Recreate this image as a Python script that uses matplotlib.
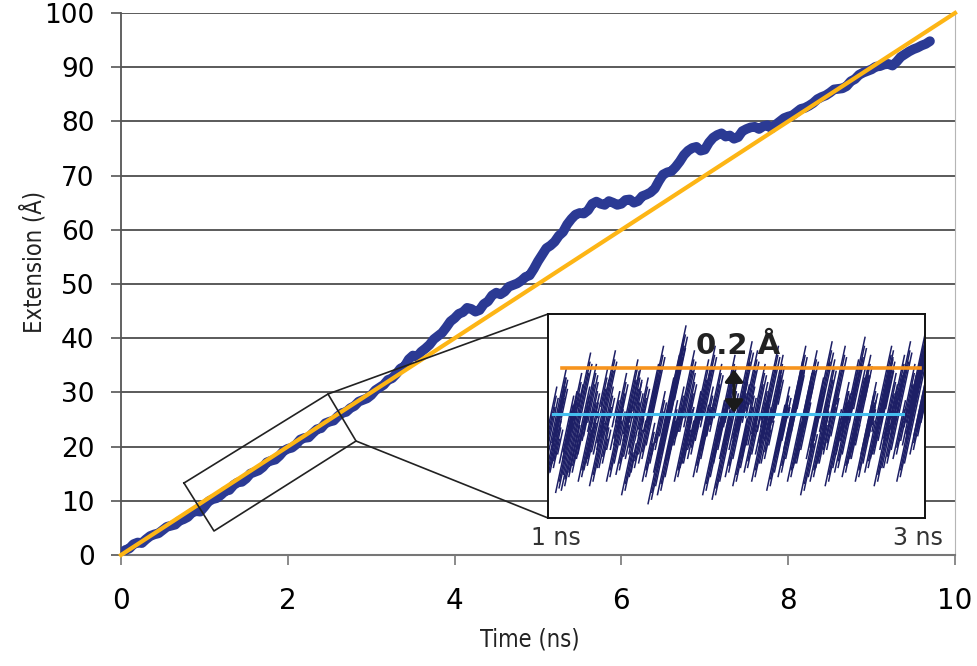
import numpy as np
import matplotlib
matplotlib.use('Agg')
from matplotlib import pyplot as plt
from matplotlib.collections import LineCollection
from matplotlib.font_manager import fontManager, FontProperties

# pulling trajectory: extension (A) sampled every 0.05 ns
extension = [0.2, 0.9, 1.2, 2.0, 2.3, 2.2, 2.9, 3.5, 3.8, 4.0,
             4.6, 5.2, 5.4, 5.6, 6.3, 6.6, 7.0, 7.8, 8.1, 8.0,
             8.9, 9.9, 10.3, 10.5, 11.1, 11.8, 12.0, 12.9, 13.4, 13.5,
             14.1, 15.0, 15.3, 15.6, 16.2, 17.1, 17.4, 17.6, 18.3, 19.2,
             19.6, 19.8, 20.4, 21.3, 21.6, 21.7, 22.5, 23.2, 23.4, 24.3,
             24.6, 24.8, 25.6, 26.2, 26.4, 27.1, 27.5, 28.3, 28.6, 28.9,
             29.5, 30.4, 30.9, 31.4, 32.3, 32.6, 33.4, 34.4, 34.8, 36.1,
             36.8, 36.6, 37.5, 38.1, 38.8, 39.8, 40.4, 41.0, 42.0, 43.1,
             43.7, 44.5, 44.8, 45.6, 45.4, 44.9, 45.2, 46.3, 46.8, 47.9,
             48.4, 48.1, 48.6, 49.5, 49.8, 50.1, 50.6, 51.3, 51.6, 52.8,
             54.2, 55.4, 56.6, 57.1, 57.8, 58.9, 59.6, 61.0, 62.0, 62.8,
             63.1, 63.0, 63.6, 64.8, 65.2, 64.8, 64.6, 65.3, 65.0, 64.6,
             64.8, 65.5, 65.6, 65.0, 65.3, 66.2, 66.5, 66.9, 67.6, 69.0,
             70.2, 70.6, 70.8, 71.6, 72.6, 73.8, 74.6, 75.1, 75.3, 74.6,
             74.8, 76.1, 77.0, 77.5, 77.8, 77.2, 77.4, 76.8, 77.1, 78.2,
             78.6, 78.9, 79.0, 78.6, 79.1, 79.3, 78.7, 79.4, 80.0, 80.6,
             80.9, 81.1, 81.7, 82.3, 82.5, 82.9, 83.4, 84.1, 84.5, 84.8,
             85.3, 85.9, 86.0, 86.1, 86.5, 87.4, 87.8, 88.6, 89.0, 89.3,
             89.6, 90.1, 90.2, 90.5, 90.6, 90.3, 91.0, 91.9, 92.4, 92.9,
             93.3, 93.6, 94.0, 94.3, 94.8]
time_ns = np.arange(len(extension)) * 0.05

# constant-velocity reference (10 A/ns)
ref_time = [0, 10]
ref_ext = [0, 100]

# zoomed window 1-3 ns: fluctuation strokes (start time, low, high) in A
seg_t = [0.96, 0.98, 1.00, 1.01, 1.03, 1.04, 1.06, 1.07, 1.09, 1.11,
         1.12, 1.14, 1.16, 1.17, 1.19, 1.21, 1.22, 1.24, 1.26, 1.27,
         1.29, 1.31, 1.33, 1.34, 1.36, 1.38, 1.39, 1.41, 1.43, 1.44,
         1.46, 1.48, 1.50, 1.51, 1.53, 1.55, 1.56, 1.58, 1.60, 1.62,
         1.63, 1.65, 1.67, 1.68, 1.70, 1.72, 1.74, 1.75, 1.77, 1.79,
         1.80, 1.82, 1.84, 1.86, 1.87, 1.89, 1.91, 1.92, 1.94, 1.96,
         1.98, 1.99, 2.01, 2.03, 2.04, 2.06, 2.08, 2.10, 2.11, 2.13,
         2.15, 2.16, 2.18, 2.20, 2.22, 2.23, 2.25, 2.27, 2.28, 2.30,
         2.32, 2.34, 2.35, 2.37, 2.39, 2.40, 2.42, 2.44, 2.46, 2.47,
         2.49, 2.51, 2.52, 2.54, 2.56, 2.58, 2.59, 2.61, 2.63, 2.64,
         2.66, 2.68, 2.70, 2.71, 2.73, 2.75, 2.76, 2.78, 2.80, 2.82,
         2.83, 2.85, 2.87, 2.88, 2.90, 2.92, 2.94, 2.96]
seg_lo = [-0.22, -0.30, -0.18, -0.26, -0.10, -0.35, -0.22, -0.34, -0.15, -0.28,
          -0.05, -0.20, -0.30, -0.12, -0.25, -0.08, -0.32, -0.18, -0.02, -0.24,
          -0.10, -0.30, -0.16, -0.06, -0.27, -0.14, -0.36, -0.20, -0.04, -0.26,
          -0.12, -0.22, -0.30, -0.08, -0.40, -0.18, -0.26, -0.36, -0.12, -0.22,
          -0.02, -0.16, -0.30, -0.10, -0.24, -0.06, -0.20, -0.14, -0.28, -0.08,
          -0.18, -0.36, -0.10, -0.24, -0.38, -0.14, -0.20, -0.06, -0.28, -0.16,
          -0.32, -0.10, -0.22, -0.04, -0.26, -0.14, -0.30, -0.18, -0.08, -0.22,
          -0.12, -0.34, -0.04, -0.20, -0.28, -0.10, -0.16, -0.30, -0.06, -0.24,
          -0.14, -0.36, -0.02, -0.20, -0.30, -0.10, -0.24, -0.08, -0.18, -0.32,
          -0.04, -0.20, -0.26, -0.12, -0.28, -0.06, -0.22, -0.14, -0.30, -0.02,
          -0.18, -0.26, -0.10, -0.20, -0.32, -0.06, -0.16, -0.24, -0.12, -0.02,
          -0.20, -0.30, -0.08, -0.14, -0.04, -0.18, -0.10, -0.06]
seg_hi = [0.12, 0.02, 0.20, -0.02, 0.16, 0.05, 0.08, 0.27, 0.10, -0.05,
          0.18, 0.12, 0.02, 0.22, 0.05, 0.14, 0.00, 0.28, 0.20, -0.02,
          0.12, 0.06, 0.18, 0.10, 0.04, 0.24, -0.08, 0.14, 0.20, 0.02,
          0.16, 0.30, -0.04, 0.22, 0.39, 0.10, 0.16, 0.06, 0.26, 0.00,
          0.34, 0.12, 0.08, 0.28, 0.02, 0.18, 0.24, 0.10, 0.04, 0.30,
          0.12, 0.00, 0.22, 0.06, 0.14, 0.26, 0.02, 0.20, 0.10, 0.32,
          -0.02, 0.18, 0.12, 0.28, 0.04, 0.22, 0.08, 0.30, 0.14, 0.02,
          0.26, 0.04, 0.20, 0.12, 0.24, 0.08, 0.30, 0.00, 0.22, 0.10,
          0.28, -0.04, 0.18, 0.16, 0.06, 0.32, 0.04, 0.24, 0.12, 0.02,
          0.30, 0.14, 0.24, 0.10, 0.20, 0.34, 0.00, 0.26, 0.08, 0.22,
          0.14, 0.30, 0.06, 0.28, 0.04, 0.24, 0.18, 0.32, 0.10, 0.26,
          0.06, 0.36, 0.22, 0.30, 0.38, 0.20, 0.40, 0.30]
seg_slope = 3.9  # A per ns in the zoomed frame

# level lines in the zoom window
upper_level = 0.2
lower_level = 0.0


def narrow_font(size):
    for f in fontManager.ttflist:
        if ('Narrow' in f.name or 'Condensed' in f.name or f.stretch == 'condensed') \
                and f.style == 'normal' and f.weight in (400, 'normal', 'regular'):
            return FontProperties(fname=f.fname, size=size)
    return FontProperties(family='DejaVu Sans', size=size)


fig = plt.figure(figsize=(9.77, 6.66), dpi=100)
ax = fig.add_axes([121/977, 1-555/666, (955-121)/977, (555-13)/666])

ax.plot(time_ns, extension, color='#2B3A94', lw=7, solid_capstyle='round',
        solid_joinstyle='round', zorder=3)
ax.plot(ref_time, ref_ext, color='#FDB515', lw=3, zorder=4, clip_on=False)

ax.set_xlim(0, 10)
ax.set_ylim(0, 100)
ax.set_xticks(range(0, 11, 2))
ax.set_yticks(range(0, 101, 10))
ax.yaxis.grid(True, color='#2e2e2e', lw=1.1)
ax.set_axisbelow(True)
ax.spines['top'].set_visible(False)
ax.spines['right'].set_color('#b5b5b5')
ax.spines['left'].set_color('#555555')
ax.spines['bottom'].set_color('#777777')
ax.spines['left'].set_linewidth(1.3)
ax.spines['bottom'].set_linewidth(1.5)
ax.tick_params(axis='y', direction='out', length=7, width=1.2, color='#555555',
               labelsize=19, pad=12)
ax.tick_params(axis='x', direction='out', length=7, width=1.2, color='#777777',
               labelsize=20, pad=16)

fig.text(33/977, 1-262/666, 'Extension (Å)', rotation=90, ha='center', va='center',
         fontproperties=narrow_font(17), color='#222222')
fig.text(530/977, 1-640/666, 'Time (ns)', ha='center', va='center',
         fontproperties=narrow_font(17), color='#222222')

# region box around 1-3 ns and its lead lines to the zoom panel
box_x = [0.755, 1.115, 2.818, 2.482, 0.755]
box_y = [13.28, 4.43, 21.03, 29.70, 13.28]
ax.plot(box_x, box_y, color='#222222', lw=1.2, zorder=5)
ax.plot([2.482, 5.12], [29.70, 44.46], color='#222222', lw=1.2, zorder=5)
ax.plot([2.818, 5.12], [21.03, 6.83], color='#222222', lw=1.2, zorder=5)

# zoom panel
ins = fig.add_axes([548/977, 1-518/666, (925-548)/977, (518-314)/666])
ins.set_xlim(1, 3)
ins.set_ylim(-0.46, 0.44)
ins.set_xticks([])
ins.set_yticks([])
for s in ins.spines.values():
    s.set_color('#111111')
    s.set_linewidth(1.4)

# each stroke is drawn as a tight bundle of parallel lines
bundle = [(0.000, 0.00, 0.00), (0.007, 0.05, -0.04), (0.013, 0.02, -0.09),
          (0.020, 0.08, -0.05)]
segs = []
for t0, lo, hi in zip(seg_t, seg_lo, seg_hi):
    for dt, dlo, dhi in bundle:
        a, b = lo + dlo, hi + dhi
        if b - a < 0.04:
            continue
        x0 = t0 + dt + dlo / seg_slope
        segs.append([(x0, a), (x0 + (b - a) / seg_slope, b)])
ins.add_collection(LineCollection(segs, colors='#1d1f66', linewidths=1.1))

ins.plot([1.074, 2.975], [upper_level, upper_level], color='#F7941D', lw=2.6, zorder=3)
ins.plot([1.027, 2.883], [lower_level, lower_level], color='#45BFEF', lw=2.2, zorder=3)
ins.annotate('', xy=(1.987, upper_level - 0.005), xytext=(1.987, lower_level + 0.005),
             arrowprops=dict(arrowstyle='<|-|>,head_length=0.45,head_width=0.34',
                             color='#1a1a1a', lw=2.4, mutation_scale=16,
                             shrinkA=0, shrinkB=0), zorder=4)
ins.text(2.01, 0.30, '0.2 Å', ha='center', va='center', fontsize=21,
         fontweight='bold', color='#222222', zorder=5)

fig.text(556/977, 1-538/666, '1 ns', ha='center', va='center', fontsize=17, color='#333333')
fig.text(918/977, 1-538/666, '3 ns', ha='center', va='center', fontsize=17, color='#333333')

fig.savefig('out.png', dpi=100)
